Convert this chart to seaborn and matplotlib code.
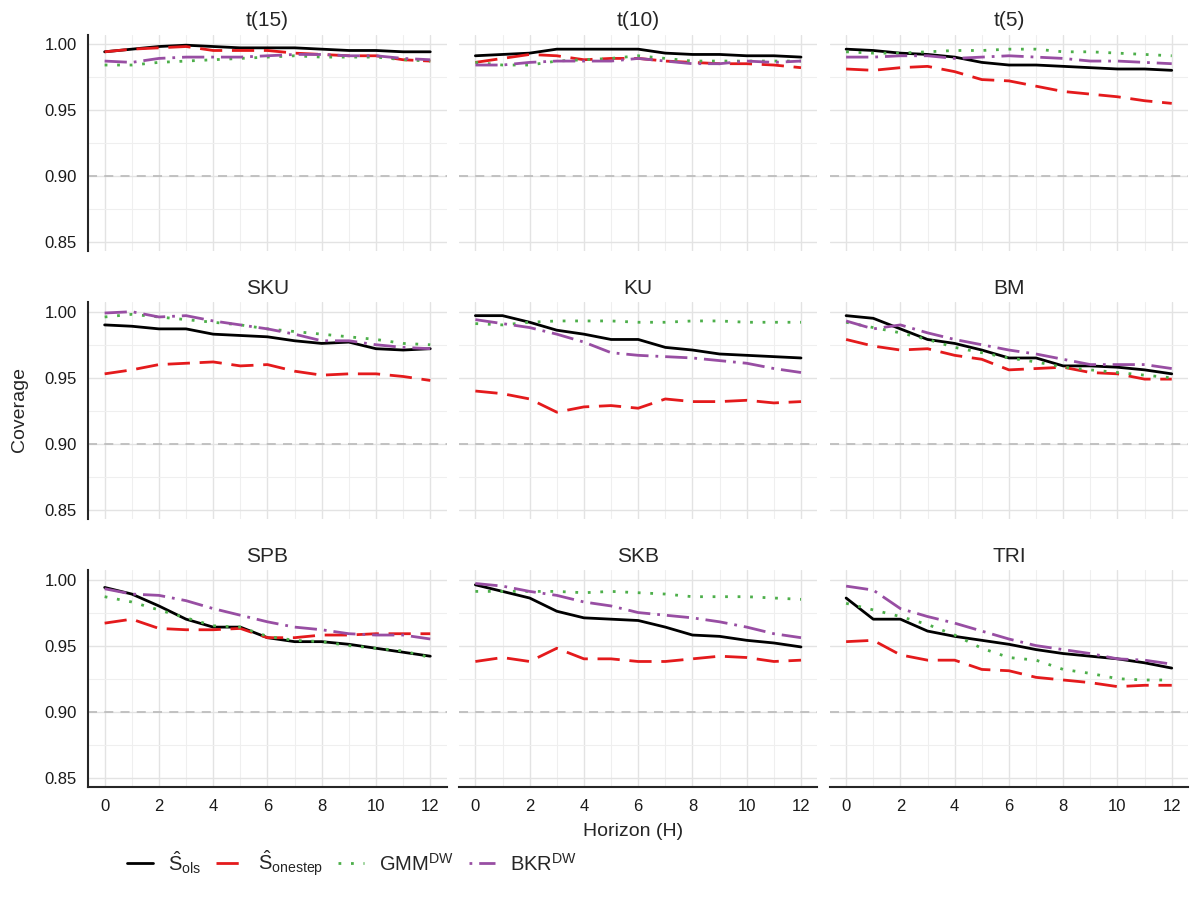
import numpy as np
import pandas as pd
import matplotlib
matplotlib.use('Agg')
import matplotlib.pyplot as plt
from matplotlib.lines import Line2D
from matplotlib.ticker import MultipleLocator
import seaborn as sns

# Horizons and panels
horizon = list(range(13))
panels = ['t(15)', 't(10)', 't(5)', 'SKU', 'KU', 'BM', 'SPB', 'SKB', 'TRI']
methods = ['ols', 'onestep', 'GMM', 'BKR']

# Coverage, per panel and method
ols = {
    't(15)': [0.994, 0.996, 0.998, 0.999, 0.998, 0.997, 0.997, 0.997, 0.996, 0.995, 0.995, 0.994, 0.994],
    't(10)': [0.991, 0.992, 0.993, 0.996, 0.996, 0.996, 0.996, 0.993, 0.992, 0.992, 0.991, 0.991, 0.990],
    't(5)':  [0.996, 0.995, 0.993, 0.992, 0.990, 0.986, 0.984, 0.984, 0.983, 0.982, 0.981, 0.981, 0.980],
    'SKU':   [0.990, 0.989, 0.987, 0.987, 0.983, 0.982, 0.981, 0.978, 0.976, 0.977, 0.972, 0.971, 0.972],
    'KU':    [0.997, 0.997, 0.992, 0.986, 0.983, 0.979, 0.979, 0.973, 0.971, 0.968, 0.967, 0.966, 0.965],
    'BM':    [0.997, 0.995, 0.987, 0.979, 0.976, 0.971, 0.965, 0.965, 0.959, 0.959, 0.958, 0.956, 0.953],
    'SPB':   [0.994, 0.989, 0.980, 0.970, 0.964, 0.964, 0.956, 0.953, 0.953, 0.951, 0.948, 0.945, 0.942],
    'SKB':   [0.996, 0.991, 0.986, 0.976, 0.971, 0.970, 0.969, 0.964, 0.958, 0.957, 0.954, 0.952, 0.949],
    'TRI':   [0.986, 0.970, 0.970, 0.961, 0.957, 0.954, 0.951, 0.947, 0.944, 0.942, 0.940, 0.937, 0.933],
}
onestep = {
    't(15)': [0.994, 0.996, 0.997, 0.998, 0.995, 0.995, 0.995, 0.993, 0.992, 0.991, 0.991, 0.988, 0.987],
    't(10)': [0.986, 0.989, 0.992, 0.991, 0.988, 0.989, 0.989, 0.987, 0.986, 0.985, 0.985, 0.984, 0.982],
    't(5)':  [0.981, 0.980, 0.982, 0.983, 0.979, 0.973, 0.972, 0.968, 0.964, 0.962, 0.960, 0.957, 0.955],
    'SKU':   [0.953, 0.956, 0.960, 0.961, 0.962, 0.959, 0.960, 0.955, 0.952, 0.953, 0.953, 0.951, 0.948],
    'KU':    [0.940, 0.938, 0.934, 0.924, 0.928, 0.929, 0.927, 0.934, 0.932, 0.932, 0.933, 0.931, 0.932],
    'BM':    [0.979, 0.974, 0.971, 0.972, 0.967, 0.964, 0.956, 0.957, 0.958, 0.954, 0.953, 0.949, 0.949],
    'SPB':   [0.967, 0.970, 0.963, 0.962, 0.962, 0.963, 0.956, 0.956, 0.958, 0.958, 0.959, 0.959, 0.959],
    'SKB':   [0.938, 0.941, 0.938, 0.948, 0.940, 0.940, 0.938, 0.938, 0.940, 0.942, 0.941, 0.938, 0.939],
    'TRI':   [0.953, 0.954, 0.943, 0.939, 0.939, 0.932, 0.931, 0.926, 0.924, 0.922, 0.919, 0.920, 0.920],
}
gmm = {
    't(15)': [0.984, 0.984, 0.986, 0.987, 0.988, 0.989, 0.990, 0.991, 0.990, 0.990, 0.990, 0.988, 0.987],
    't(10)': [0.986, 0.984, 0.984, 0.987, 0.988, 0.989, 0.991, 0.989, 0.987, 0.987, 0.987, 0.987, 0.987],
    't(5)':  [0.994, 0.993, 0.993, 0.994, 0.995, 0.995, 0.996, 0.996, 0.994, 0.994, 0.993, 0.992, 0.991],
    'SKU':   [0.996, 0.998, 0.996, 0.994, 0.992, 0.990, 0.987, 0.985, 0.983, 0.981, 0.979, 0.976, 0.975],
    'KU':    [0.991, 0.990, 0.992, 0.993, 0.993, 0.993, 0.992, 0.992, 0.993, 0.993, 0.992, 0.992, 0.992],
    'BM':    [0.992, 0.988, 0.984, 0.979, 0.973, 0.969, 0.965, 0.962, 0.958, 0.956, 0.954, 0.952, 0.950],
    'SPB':   [0.987, 0.983, 0.977, 0.971, 0.965, 0.964, 0.957, 0.954, 0.953, 0.950, 0.948, 0.946, 0.941],
    'SKB':   [0.991, 0.991, 0.991, 0.991, 0.990, 0.991, 0.990, 0.989, 0.987, 0.987, 0.987, 0.986, 0.985],
    'TRI':   [0.982, 0.977, 0.972, 0.966, 0.958, 0.948, 0.941, 0.939, 0.932, 0.929, 0.925, 0.924, 0.924],
}
bkr = {
    't(15)': [0.987, 0.986, 0.989, 0.990, 0.990, 0.990, 0.991, 0.992, 0.992, 0.991, 0.991, 0.989, 0.988],
    't(10)': [0.984, 0.984, 0.986, 0.987, 0.987, 0.987, 0.989, 0.987, 0.985, 0.985, 0.987, 0.986, 0.987],
    't(5)':  [0.990, 0.990, 0.991, 0.991, 0.989, 0.990, 0.991, 0.990, 0.989, 0.987, 0.987, 0.986, 0.985],
    'SKU':   [0.999, 1.000, 0.996, 0.997, 0.993, 0.990, 0.987, 0.983, 0.978, 0.978, 0.975, 0.973, 0.972],
    'KU':    [0.994, 0.991, 0.988, 0.983, 0.977, 0.969, 0.967, 0.966, 0.965, 0.963, 0.961, 0.957, 0.954],
    'BM':    [0.993, 0.987, 0.990, 0.984, 0.979, 0.975, 0.971, 0.968, 0.964, 0.960, 0.960, 0.960, 0.957],
    'SPB':   [0.993, 0.989, 0.988, 0.984, 0.978, 0.973, 0.968, 0.964, 0.962, 0.959, 0.958, 0.958, 0.955],
    'SKB':   [0.997, 0.995, 0.991, 0.988, 0.983, 0.980, 0.975, 0.973, 0.971, 0.968, 0.964, 0.959, 0.956],
    'TRI':   [0.995, 0.992, 0.978, 0.972, 0.967, 0.961, 0.955, 0.950, 0.947, 0.944, 0.940, 0.939, 0.936],
}

# Long table for seaborn
rows = []
for name, src in zip(methods, [ols, onestep, gmm, bkr]):
    for p in panels:
        for h, v in zip(horizon, src[p]):
            rows.append((p, name, h, v))
df = pd.DataFrame(rows, columns=['panel', 'method', 'H', 'coverage'])

palette = {'ols': '#000000', 'onestep': '#E41A1C', 'GMM': '#4DAF4A', 'BKR': '#984EA3'}
dashes = {'ols': '', 'onestep': (8, 3.5), 'GMM': (1, 3.5), 'BKR': (8, 2.5, 1, 2.5)}
labels = [r'$\hat{\mathrm{S}}_{\mathrm{ols}}$', r'$\hat{\mathrm{S}}_{\mathrm{onestep}}$',
          r'GMM$^{\mathrm{DW}}$', r'BKR$^{\mathrm{DW}}$']

sns.set_style('white')
plt.rcParams['font.family'] = ['Liberation Sans', 'DejaVu Sans']
plt.rcParams['mathtext.fontset'] = 'custom'
plt.rcParams['mathtext.rm'] = 'Liberation Sans'
plt.rcParams['mathtext.it'] = 'Liberation Sans:italic'

fig, axes = plt.subplots(3, 3, figsize=(11.94, 9.11), dpi=100, sharex=True, sharey=True)
fig.subplots_adjust(left=0.074, right=0.995, top=0.962, bottom=0.136, wspace=0.035, hspace=0.235)

for ax, p in zip(axes.flat, panels):
    sub = df[df['panel'] == p]
    ax.axhline(0.90, color='#bebebe', lw=1.3, ls=(0, (5, 4)), zorder=1)
    sns.lineplot(data=sub, x='H', y='coverage', hue='method', style='method',
                 palette=palette, dashes=dashes, hue_order=methods, style_order=methods,
                 linewidth=2.0, legend=False, ax=ax, zorder=3)
    ax.set_title(p, fontsize=15, pad=6)
    ax.set_xlim(-0.6, 12.6)
    ax.set_ylim(0.843, 1.007)
    ax.xaxis.set_major_locator(MultipleLocator(2))
    ax.xaxis.set_minor_locator(MultipleLocator(1))
    ax.yaxis.set_major_locator(MultipleLocator(0.05))
    ax.yaxis.set_minor_locator(MultipleLocator(0.025))
    ax.grid(which='major', color='#e3e3e3', lw=1.0)
    ax.grid(which='minor', color='#efefef', lw=0.8)
    ax.set_axisbelow(True)
    for s in ax.spines.values():
        s.set_visible(False)
    ax.set_xlabel('')
    ax.set_ylabel('')
    ax.tick_params(which='both', length=0, labelsize=12, colors='#1a1a1a')

for ax in axes[:, 0]:
    ax.spines['left'].set_visible(True)
    ax.spines['left'].set_linewidth(1.5)
    ax.tick_params(axis='y', which='major', length=5, width=1.5)
for ax in axes[-1, :]:
    ax.spines['bottom'].set_visible(True)
    ax.spines['bottom'].set_linewidth(1.5)
    ax.tick_params(axis='x', which='major', length=5, width=1.5)
axes[0, 0].yaxis.set_major_formatter(matplotlib.ticker.FormatStrFormatter('%.2f'))

fig.text(0.016, 0.55, 'Coverage', rotation=90, va='center', ha='center', fontsize=14)
fig.text(0.53, 0.087, 'Horizon (H)', va='center', ha='center', fontsize=14)

# legend keys: start the dash-dot key on its dot, as in the reference
offsets = {'ols': 0, 'onestep': 0, 'GMM': 0, 'BKR': 10.5}
handles = [Line2D([0], [0], color=palette[m], lw=2.0,
                  linestyle='-' if m == 'ols' else (offsets[m], dashes[m])) for m in methods]
fig.legend(handles, labels, loc='center left', bbox_to_anchor=(0.091, 0.052), ncol=4,
           frameon=False, fontsize=14.5, handlelength=1.3, columnspacing=0.75, handletextpad=0.75)

fig.savefig('out.png', dpi=100)
